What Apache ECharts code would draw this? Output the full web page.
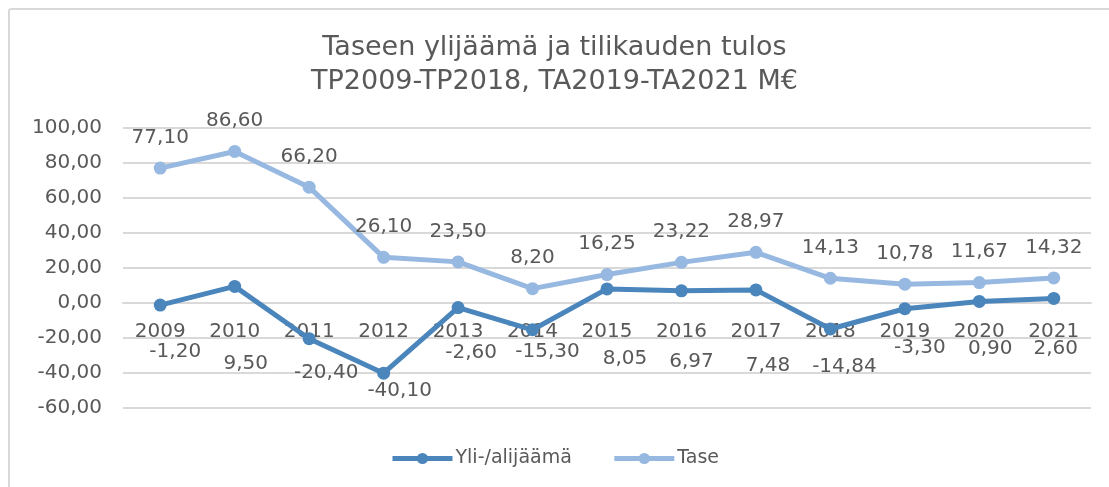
<!DOCTYPE html>
<html>
<head>
<meta charset="utf-8">
<script src="https://cdn.jsdelivr.net/npm/echarts@6/dist/echarts.min.js"></script>
<style>
html,body{margin:0;padding:0;background:#fff;}
#c{width:1109px;height:487px;}
</style>
</head>
<body>
<div id="c"></div>
<script>
const categories = ['2009','2010','2011','2012','2013','2014','2015','2016','2017','2018','2019','2020','2021'];
const yliAlijaama = [-1.20, 9.50, -20.40, -40.10, -2.60, -15.30, 8.05, 6.97, 7.48, -14.84, -3.30, 0.90, 2.60];
const tase = [77.10, 86.60, 66.20, 26.10, 23.50, 8.20, 16.25, 23.22, 28.97, 14.13, 10.78, 11.67, 14.32];
const seriesNames = ['Yli-/alijäämä', 'Tase'];
const titleLines = ['Taseen ylijäämä ja tilikauden tulos', 'TP2009-TP2018, TA2019-TA2021 M€'];

// label nudges (style only) for the lower series, mimicking hand-placed labels
const yliLabelNudge = [[15,47],[11,77],[17,34],[16,18],[13,45],[15,22],[18,70],[10,71],[12,76],[14,38],[15,39],[11,47],[2,50]];

const fmt = v => v.toFixed(2).replace('.', ',');
const FONT = 'DejaVu Sans';
const TXT = '#595959';
const C1 = '#4A85BC', C2 = '#97B8E0';

const chart = echarts.init(document.getElementById('c'), null, {renderer:'canvas'});
chart.setOption({
  animation: false,
  backgroundColor: '#fff',
  textStyle: {fontFamily: FONT},
  graphic: [{
    type: 'rect', z: -1,
    shape: {x: 9, y: 9, width: 1120, height: 500, r: 2},
    style: {fill: 'none', stroke: '#d9d9d9', lineWidth: 2}
  }],
  title: {
    text: titleLines.join('\n'),
    left: 'center', top: 26,
    textStyle: {fontFamily: FONT, fontSize: 27, fontWeight: 'normal', color: TXT, lineHeight: 34}
  },
  legend: {
    bottom: 14, left: 'center',
    itemWidth: 60, itemHeight: 14, itemGap: 40,
    lineStyle: {width: 5},
    textStyle: {fontFamily: FONT, fontSize: 19, color: TXT, padding: [0,0,0,-2]},
    data: seriesNames
  },
  grid: {left: 123, right: 18, top: 128, bottom: 79, containLabel: false},
  xAxis: {
    type: 'category', data: categories, boundaryGap: true,
    axisLine: {show: true, onZero: true, lineStyle: {color: '#d9d9d9', width: 2}},
    axisTick: {show: false},
    axisLabel: {fontFamily: FONT, fontSize: 20, color: TXT, margin: 19},
    splitLine: {show: false}
  },
  yAxis: {
    type: 'value', min: -60, max: 100, interval: 20,
    axisLine: {show: false}, axisTick: {show: false},
    axisLabel: {fontFamily: FONT, fontSize: 20, color: TXT, margin: 21, formatter: v => fmt(v)},
    splitLine: {lineStyle: {color: '#d9d9d9', width: 2}}
  },
  series: [
    {
      name: seriesNames[0], type: 'line',
      data: yliAlijaama.map((v, i) => ({
        value: v,
        label: {offset: yliLabelNudge[i]}
      })),
      symbol: 'circle', symbolSize: 13,
      lineStyle: {color: C1, width: 5},
      itemStyle: {color: C1},
      label: {show: true, position: 'inside', fontFamily: FONT, fontSize: 20, color: TXT, formatter: p => fmt(p.value)},
      z: 3
    },
    {
      name: seriesNames[1], type: 'line',
      data: tase,
      symbol: 'circle', symbolSize: 13,
      lineStyle: {color: C2, width: 5},
      itemStyle: {color: C2},
      label: {show: true, position: 'top', distance: 14, fontFamily: FONT, fontSize: 20, color: TXT, formatter: p => fmt(p.value)},
      z: 2
    }
  ]
});

// Place the category axis on the value 0 line (Excel "axis crosses at 0"), using the library's own scale.
const yZero = chart.convertToPixel({yAxisIndex: 0}, 0);
const yMin = chart.convertToPixel({yAxisIndex: 0}, -60);
chart.setOption({xAxis: {offset: yZero - yMin}});
</script>
</body>
</html>
